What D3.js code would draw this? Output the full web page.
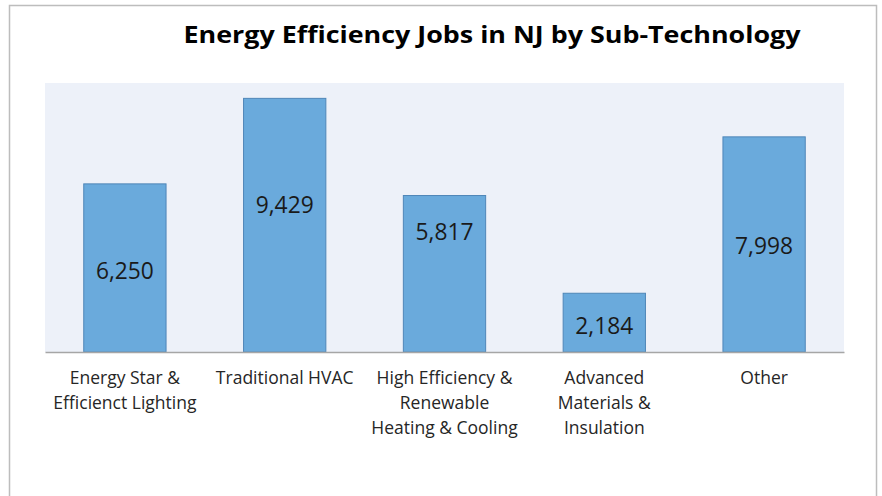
<!DOCTYPE html>
<html><head><meta charset="utf-8">
<script src="https://cdn.jsdelivr.net/npm/d3@7"></script>
<style>body{margin:0;background:#fff}svg{display:block}</style>
</head><body>
<svg id="c" width="882" height="496"></svg>
<script>
const categories = ["Energy Star & Efficienct Lighting", "Traditional HVAC", "High Efficiency & Renewable Heating & Cooling", "Advanced Materials & Insulation", "Other"];
const categoryLines = [["Energy Star &", "Efficienct Lighting"], ["Traditional HVAC"], ["High Efficiency &", "Renewable", "Heating & Cooling"], ["Advanced", "Materials &", "Insulation"], ["Other"]];
const jobs = [6250, 9429, 5817, 2184, 7998];
const yMax = 10000;
const title = "Energy Efficiency Jobs in NJ by Sub-Technology";

// layout: value-label anchor heights (in data units) as placed in the original
const labelAnchor = [3011, 5465, 4461, 967, 3941];

const svg = d3.select("#c");
const font = "'Open Sans', 'Noto Sans', sans-serif";
svg.append("rect").attr("x", 9.5).attr("y", 5.5).attr("width", 867).attr("height", 500)
  .attr("fill", "#fff").attr("stroke", "#bdbdbd").attr("stroke-width", 1.5);

const m = {left: 45, right: 844, top: 83, bottom: 352};
const x = d3.scaleBand().domain(categories).range([m.left, m.right]).paddingInner(0.485).paddingOuter(0.2425);
const y = d3.scaleLinear().domain([0, yMax]).range([m.bottom, m.top]);

svg.append("rect").attr("x", m.left).attr("y", m.top).attr("width", m.right - m.left).attr("height", m.bottom - m.top).attr("fill", "#edf1f9");

svg.append("text").attr("x", 492).attr("y", 43).attr("text-anchor", "middle")
  .attr("font-family", font).attr("font-weight", "bold").attr("font-size", 23).attr("fill", "#000")
  .attr("textLength", 617).attr("lengthAdjust", "spacingAndGlyphs").text(title);

const g = svg.append("g");
g.selectAll("rect.bar").data(categories).join("rect").attr("class", "bar")
  .attr("x", d => x(d)).attr("width", x.bandwidth())
  .attr("y", (d, i) => y(jobs[i])).attr("height", (d, i) => y(0) - y(jobs[i]))
  .attr("fill", "#6aaadc").attr("stroke", "#4f86b8").attr("stroke-width", 1);

g.selectAll("text.val").data(categories).join("text").attr("class", "val")
  .attr("x", d => x(d) + x.bandwidth() / 2)
  .attr("y", (d, i) => y(labelAnchor[i]))
  .attr("dy", "0.36em").attr("text-anchor", "middle")
  .attr("font-family", font).attr("font-size", 23).attr("fill", "#1a1a1a")
  .attr("textLength", 58).attr("lengthAdjust", "spacingAndGlyphs")
  .text((d, i) => d3.format(",")(jobs[i]));

// x axis
const xAxis = d3.axisBottom(x).tickSize(0).tickFormat("");
const ax = svg.append("g").attr("transform", `translate(0,${m.bottom})`).call(xAxis);
ax.select(".domain").attr("stroke", "#a6a6a6").attr("stroke-width", 1.5);
ax.selectAll(".tick").each(function(d, i) {
  const t = d3.select(this).append("text").attr("fill", "#262626")
    .attr("font-family", font).attr("font-size", 17.5).attr("text-anchor", "middle");
  categoryLines[i].forEach((ln, j) => {
    t.append("tspan").attr("x", 0).attr("y", 32 + j * 25).text(ln);
  });
});
</script>
</body></html>
